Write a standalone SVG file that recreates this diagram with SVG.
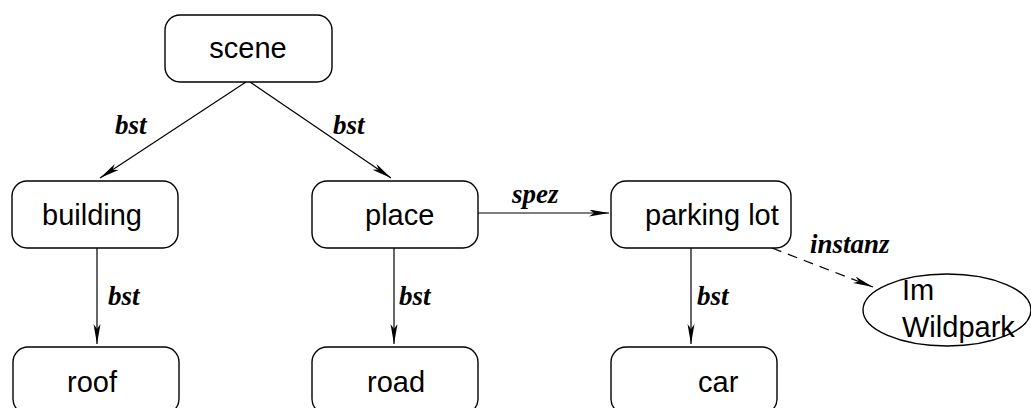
<svg xmlns="http://www.w3.org/2000/svg" width="1031" height="408" viewBox="0 0 1031 408">
<style>
.box{fill:#fff;stroke:#000;stroke-width:1.4}
.t{font-family:"Liberation Sans",Arial,sans-serif;font-size:29px;fill:#000}
.l{font-family:"Liberation Serif","Times New Roman",serif;font-size:27px;font-weight:bold;font-style:italic;fill:#000}
.c{stroke:#000;stroke-width:1.2;fill:none;marker-end:url(#ah)}
.d{stroke-dasharray:10,7}
</style>
<defs>
<marker id="ah" markerUnits="userSpaceOnUse" markerWidth="22" markerHeight="10" refX="20" refY="3.5" orient="auto">
<path d="M0,0 L20,3.5 L0,7 L5,3.5 z" fill="#000"/>
</marker>
</defs>
<g id="connectors">
<line class="c" x1="246" y1="82" x2="100" y2="178"/>
<line class="c" x1="250" y1="82" x2="391" y2="178"/>
<line class="c" x1="97" y1="248" x2="97" y2="344"/>
<line class="c" x1="394" y1="248" x2="394" y2="344"/>
<line class="c" x1="691" y1="248" x2="691" y2="344"/>
<line class="c" x1="478" y1="213" x2="609" y2="213"/>
<line class="c d" x1="772" y1="248" x2="873" y2="287"/>
<text class="l" x="115" y="134">bst</text>
<text class="l" x="333" y="134">bst</text>
<text class="l" x="108" y="305">bst</text>
<text class="l" x="399" y="305">bst</text>
<text class="l" x="697" y="305">bst</text>
<text class="l" x="512" y="203">spez</text>
<text class="l" x="810" y="253">instanz</text>
</g>
<g id="scene"><rect class="box" x="165" y="15" width="167" height="67" rx="15"/><text class="t" x="248" y="58" text-anchor="middle">scene</text></g>
<g id="building"><rect class="box" x="12" y="181" width="166" height="67" rx="15"/><text class="t" x="42" y="225">building</text></g>
<g id="place"><rect class="box" x="312" y="181" width="166" height="67" rx="15"/><text class="t" x="365" y="225">place</text></g>
<g id="parkinglot"><rect class="box" x="611" y="181" width="180" height="67" rx="15"/><text class="t" x="645" y="225">parking lot</text></g>
<g id="roof"><rect class="box" x="13" y="347" width="166" height="67" rx="15"/><text class="t" x="67" y="392">roof</text></g>
<g id="road"><rect class="box" x="312" y="347" width="166" height="67" rx="15"/><text class="t" x="367" y="392">road</text></g>
<g id="car"><rect class="box" x="611" y="347" width="166" height="67" rx="15"/><text class="t" x="698" y="392">car</text></g>
<g id="wildpark"><ellipse class="box" cx="947" cy="310" rx="84" ry="36"/><text class="t" x="902" y="300">Im</text><text class="t" x="902" y="337">Wildpark</text></g>
</svg>
